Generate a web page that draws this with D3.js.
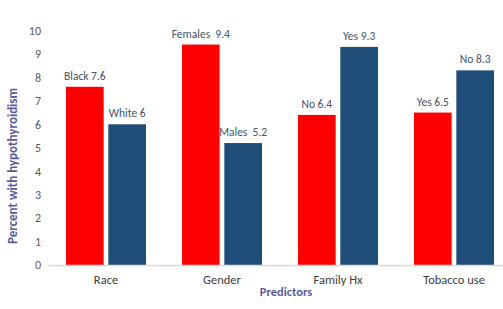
<!DOCTYPE html>
<html><head><meta charset="utf-8">
<script src="https://cdn.jsdelivr.net/npm/d3@7"></script>
<style>body{margin:0;background:#fff}text{font-family:Carlito,Lato,sans-serif}</style>
</head><body>
<svg id="c" width="503" height="309"></svg>
<script>
const categories = ["Race", "Gender", "Family Hx", "Tobacco use"];
const series1Values = [7.6, 9.4, 6.4, 6.5];
const series1Labels = ["Black 7.6", "Females  9.4", "No 6.4", "Yes 6.5"];
const series2Values = [6, 5.2, 9.3, 8.3];
const series2Labels = ["White 6", "Males  5.2", "Yes 9.3", "No 8.3"];
const yTicks = [0,1,2,3,4,5,6,7,8,9,10];

const svg = d3.select("#c");
const x = d3.scaleBand().domain(categories).range([48, 512]).paddingInner(0).paddingOuter(0);
const inner = d3.scaleBand().domain([0,1]).range([18, 116-18]).paddingInner(0.11);
const y = d3.scaleLinear().domain([0,10]).range([265, 30.5]);

const yAxis = d3.axisLeft(y).tickValues(yTicks).tickSize(0).tickPadding(0);
const gy = svg.append("g").attr("transform","translate(41,0)").call(yAxis);
gy.select(".domain").remove();
gy.selectAll("text").attr("fill","#595959").style("font-size","12px");

const series = [
  {vals: series1Values, labels: series1Labels, color: "#FF0000"},
  {vals: series2Values, labels: series2Labels, color: "#1F4E79"}
];
series.forEach((s,si)=>{
  const g = svg.append("g");
  g.selectAll("rect").data(categories).join("rect")
    .attr("x", (c)=>x(c)+inner(si))
    .attr("width", inner.bandwidth())
    .attr("y", (c,i)=>y(s.vals[i]))
    .attr("height", (c,i)=>y(0)-y(s.vals[i]))
    .attr("fill", s.color);
  g.selectAll("text").data(categories).join("text")
    .attr("x", (c)=>x(c)+inner(si)+inner.bandwidth()/2)
    .attr("y", (c,i)=>y(s.vals[i])-7)
    .attr("text-anchor","middle")
    .attr("fill","#44546A")
    .style("font-size","11.5px")
    .style("white-space","pre")
    .text((c,i)=>s.labels[i]);
});

const xAxis = d3.axisBottom(x).tickSize(0).tickPadding(10);
const gx = svg.append("g").attr("transform","translate(0,265)").call(xAxis);
gx.select(".domain").attr("stroke","#D9D9D9").attr("stroke-width",1.3);
gx.selectAll("text").attr("fill","#404040").style("font-size","12.5px");

svg.append("text").attr("x",286).attr("y",296).attr("text-anchor","middle")
  .attr("fill","#5B5B9B").style("font-size","12.5px").style("font-weight","bold").text("Predictors");
svg.append("text").attr("transform","translate(17,166) rotate(-90)").attr("text-anchor","middle")
  .attr("fill","#5B5B9B").style("font-size","13px").style("font-weight","bold").text("Percent with hypothyroidism");
</script>
</body></html>
